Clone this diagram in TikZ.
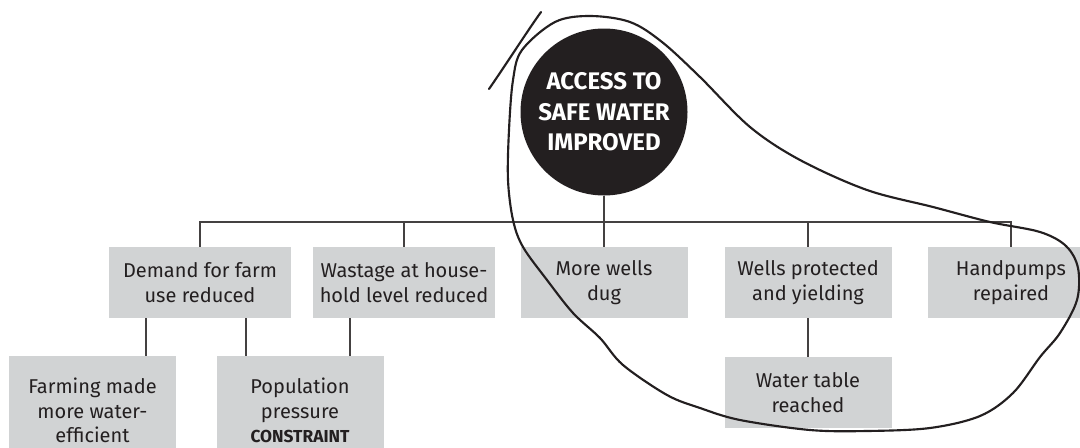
\documentclass[tikz,border=0pt]{standalone}
\usepackage{fontspec}
\setmainfont{Fira Sans}
\usetikzlibrary{positioning}
\definecolor{ink}{HTML}{231F20}
\definecolor{boxgray}{HTML}{D1D3D4}
\tikzset{
  box/.style={fill=boxgray, text=ink, align=center, inner sep=0pt,
    minimum width=125.25pt, minimum height=53.25pt, font=\fontsize{15}{18.75}\selectfont},
  widebox/.style={box, minimum width=136.5pt},
  link/.style={draw=ink!85, line width=0.8pt},
  lasso/.style={draw=ink, line width=1.6pt, line cap=round}
}
\begin{document}
\begin{tikzpicture}[x=0.75pt, y=-0.75pt]
\clip (0,0) rectangle (1080,447);
\fill[white] (0,0) rectangle (1080,447);
%goal
\node[circle, fill=ink, text=white, minimum size=125.25pt, inner sep=0pt, align=center,
  font=\fontsize{18}{23}\selectfont\bfseries] (goal) at (604,112) {ACCESS TO\\SAFE WATER\\IMPROVED};
%first row
\node[widebox] (demand) at (200,282.5) {Demand for farm\\use reduced};
\node[widebox] (wastage) at (404,282.5) {Wastage at house-\\hold level reduced};
\node[box] (wells) at (604,282.5) {More wells\\dug};
\node[box] (protect) at (808,282.5) {Wells protected\\and yielding};
\node[box] (pumps) at (1011,282.5) {Handpumps\\repaired};
%second row (runs off the bottom)
\node[box, minimum height=82pt, font=\fontsize{15}{18.2}\selectfont] (farming) at (92.5,410.5) {Farming made\\more water-\\efficient};
\node[box, minimum height=82pt, font=\fontsize{15}{18.2}\selectfont] (pressure) at (300,410.5) {Population\\pressure\\{\fontsize{13}{16}\selectfont\bfseries CONSTRAINT}};
\node[box] (table) at (808,392.5) {Water table\\reached};
%tree
\coordinate (bar) at (0,222);
\draw[link] (goal.south) -- (goal.south |- bar);
\draw[link] (demand.north) -- (demand.north |- bar) -- (pumps.north |- bar) -- (pumps.north);
\foreach \n in {wastage, wells, protect} \draw[link] (\n.north) -- (\n.north |- bar);
\draw[link] ([xshift=-40.5pt]demand.south) coordinate (s1) -- (s1 |- farming.north);
\draw[link] ([xshift=34.5pt]demand.south) coordinate (s2) -- (s2 |- pressure.north);
\draw[link] ([xshift=-40.5pt]wastage.south) coordinate (s3) -- (s3 |- pressure.north);
\draw[link] (protect.south) -- (table.north);
%loop round the wells
\draw[lasso] plot[smooth cycle, tension=0.55] coordinates {
  (555,22) (590,16) (630,22) (662,42) (700,77) (750,127) (800,160) (867,190)
  (933,207) (990,222) (1040,232) (1066,246) (1078,268) (1077,300) (1060,333)
  (1040,357) (1013,393) (980,416) (930,428) (867,431) (810,430) (740,420)
  (700,408) (667,395) (623,365) (600,338) (573,313) (547,280) (523,247)
  (513,220) (508,180) (509,130) (513,80) (522,50)};
\draw[lasso] (541,12) .. controls (526,33) and (507,63) .. (489,89);
\end{tikzpicture}
\end{document}
